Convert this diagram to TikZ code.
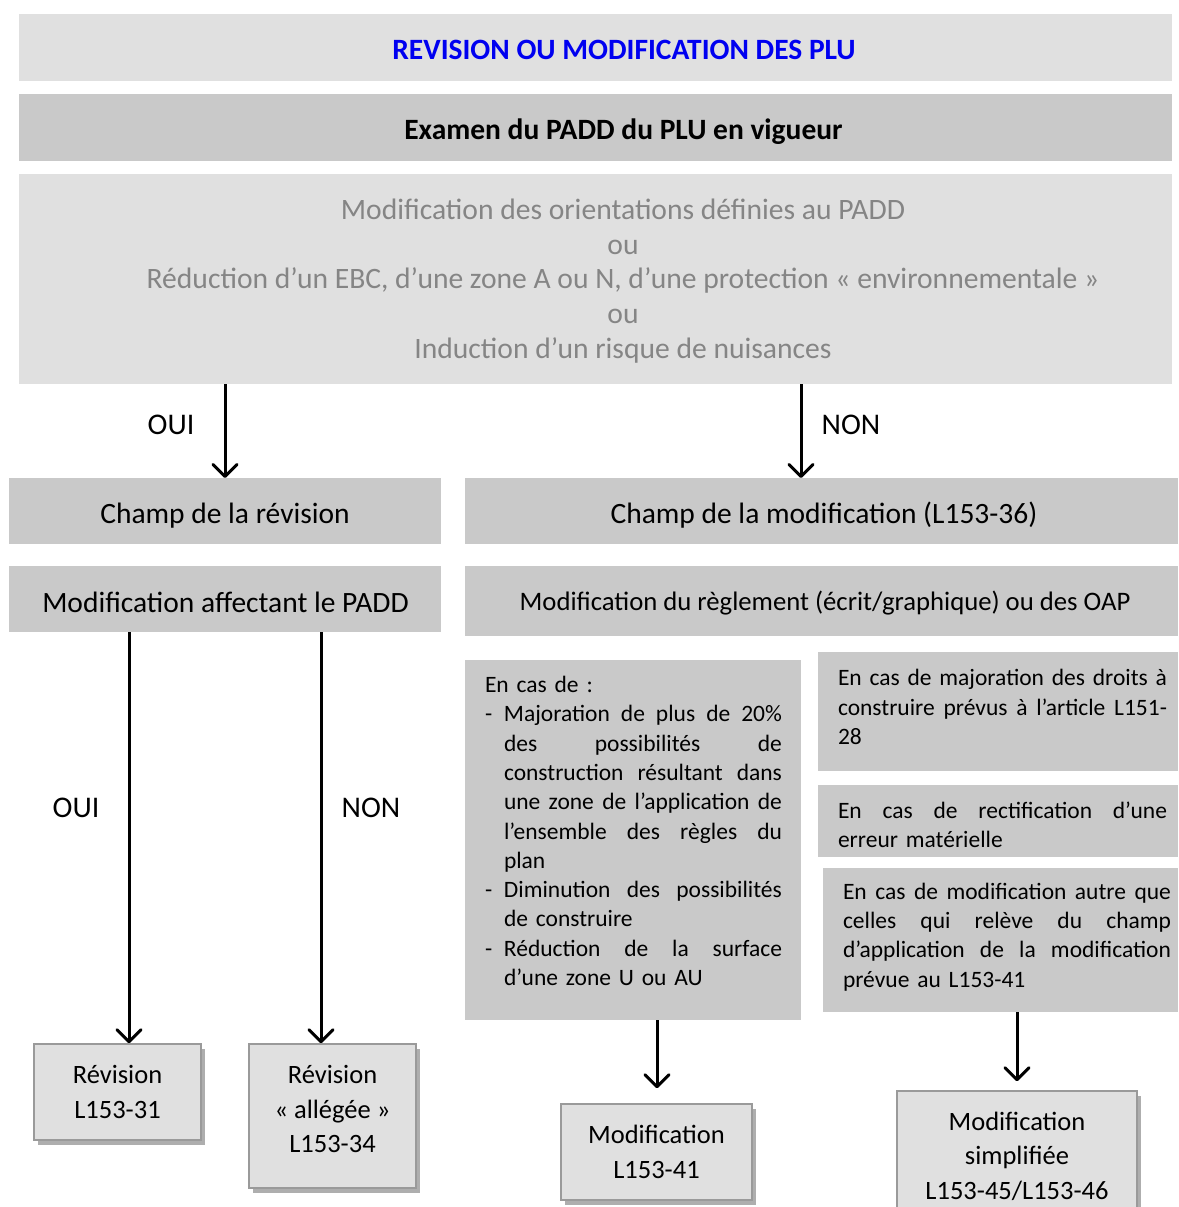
\documentclass[tikz,border=0pt]{standalone}
\usepackage{fontspec}
\setmainfont{Carlito}
\usetikzlibrary{arrows.meta,shadows}
\definecolor{lightbox}{HTML}{E0E0E0}
\definecolor{midbox}{HTML}{C9C9C9}
\definecolor{greytxt}{HTML}{858585}
\definecolor{titleblue}{HTML}{0000F0}
\definecolor{edgegrey}{HTML}{9A9A9A}
\newcommand\jst[2]{\leavevmode\hbox to #1{\spaceskip=\fontdimen2\font plus 1fil\relax\xspaceskip=\spaceskip #2}}
\newcommand\dsh{\leavevmode\hbox to 19pt{-\hss}}
\newcommand\ind{\hspace*{19pt}}
\tikzset{
  band/.style={draw=none, inner sep=0pt, outer sep=0pt},
  lightband/.style={band, fill=lightbox},
  midband/.style={band, fill=midbox},
  bigfont/.style={font=\fontsize{29.5}{34.5}\selectfont},
  bodyfont/.style={font=\fontsize{23.5}{29.3}\selectfont},
  txt/.style={inner sep=0pt, outer sep=0pt},
  basetxt/.style={txt, anchor=base},
  result/.style={draw=edgegrey, line width=1.5pt, fill=lightbox, inner sep=0pt,
    drop shadow={shadow xshift=4pt, shadow yshift=-5pt, opacity=0.45, fill=black!70}},
  resfont/.style={txt, align=center, font=\fontsize{26.5}{34.5}\selectfont},
  arr/.style={line width=3pt, -{Straight Barb[length=12pt,width=24pt,line width=3pt,round]}},
  lbl/.style={basetxt, font=\fontsize{30}{34}\selectfont},
}
\begin{document}
\begin{tikzpicture}[x=1pt,y=-1pt]
\useasboundingbox (0,0) rectangle (1178,1207);
\clip (0,0) rectangle (1178,1207);
% top bands
\node[lightband, minimum width=1153pt, minimum height=67pt] (title) at (595.5,47.5) {};
\node[basetxt, font=\fontsize{29.5}{34}\selectfont\bfseries, text=titleblue] (titletxt) at (624,59.5) {REVISION OU MODIFICATION DES PLU};
\node[midband, minimum width=1153pt, minimum height=67pt] (examen) at (595.5,127.5) {};
\node[basetxt, font=\fontsize{29.5}{34}\selectfont\bfseries] (examentxt) at (623.5,139.5) {Examen du PADD du PLU en vigueur};
\node[lightband, minimum width=1153pt, minimum height=210pt] (big) at (595.5,279) {};
\node[txt, align=center, text=greytxt, font=\fontsize{29.6}{34.8}\selectfont] (bigtxt) at (623,281) {Modification des orientations définies au PADD\\ou\\Réduction d’un EBC, d’une zone A ou N, d’une protection « environnementale »\\ou\\Induction d’un risque de nuisances};
% second level
\node[midband, minimum width=432pt, minimum height=66pt] (champR) at (225,511) {};
\node[basetxt, bigfont] (champRtxt) at (225,523.5) {Champ de la révision};
\node[midband, minimum width=713pt, minimum height=66pt] (champM) at (821.5,511) {};
\node[basetxt, bigfont] (champMtxt) at (824,523.5) {Champ de la modification (L153-36)};
\node[midband, minimum width=432pt, minimum height=66pt] (modPADD) at (225,599) {};
\node[basetxt, bigfont] (modPADDtxt) at (225.5,612.5) {Modification affectant le PADD};
\node[midband, minimum width=713pt, minimum height=70pt] (modReg) at (821.5,601) {};
\node[basetxt, font=\fontsize{26.7}{30}\selectfont] (modRegtxt) at (825,610.6) {Modification du règlement (écrit/graphique) ou des OAP};
% arrows top
\draw[arr] (big.south -| champR.north) -- (champR.north);
\draw[arr] (big.south -| 801,0) -- (champM.north -| 801,0);
\node[lbl] (oui1) at (171,434.5) {OUI};
\node[lbl] (non1) at (851,434.5) {NON};
% condition boxes
\node[midband, minimum width=336pt, minimum height=360pt] (encas) at (633,840) {};
\node[txt, bodyfont, text width=297pt, align=left] (encastxt) at (633.5,831) {%
En cas de :\\
\dsh\jst{278pt}{Majoration de plus de 20\%}\\
\ind\jst{278pt}{des possibilités de}\\
\ind\jst{278pt}{construction résultant dans}\\
\ind\jst{278pt}{une zone de l’application de}\\
\ind\jst{278pt}{l’ensemble des règles du}\\
\ind plan\\
\dsh\jst{278pt}{Diminution des possibilités}\\
\ind de construire\\
\dsh\jst{278pt}{Réduction de la surface}\\
\ind d’une zone U ou AU};
\node[midband, minimum width=360pt, minimum height=119pt] (maj) at (998,711.5) {};
\node[txt, bodyfont, text width=329pt, align=left] (majtxt) at (1002.5,707) {%
\jst{329pt}{En cas de majoration des droits à}\\
\jst{329pt}{construire prévus à l’article L151-}\\
28};
\node[midband, minimum width=360pt, minimum height=72pt] (rect) at (998,821) {};
\node[txt, bodyfont, text width=329pt, align=left] (recttxt) at (1002.5,825) {%
\jst{329pt}{En cas de rectification d’une}\\
erreur matérielle};
\node[midband, minimum width=355pt, minimum height=144pt] (autre) at (1000.5,940) {};
\node[txt, bodyfont, text width=328pt, align=left] (autretxt) at (1007,937) {%
\jst{328pt}{En cas de modification autre que}\\
\jst{328pt}{celles qui relève du champ}\\
\jst{328pt}{d’application de la modification}\\
prévue au L153-41};
% results
\node[result, minimum width=167pt, minimum height=96pt] (rev) at (117.5,1092) {};
\node[resfont] (revtxt) at (117.5,1092) {Révision\\L153-31};
\node[result, minimum width=167pt, minimum height=144pt] (revall) at (332.5,1116) {};
\node[resfont] (revalltxt) at (332.5,1109) {Révision\\« allégée »\\L153-34};
\node[result, minimum width=191pt, minimum height=96pt] (mod) at (656.5,1152) {};
\node[resfont] (modtxt) at (656.5,1152) {Modification\\L153-41};
\node[result, minimum width=240pt, minimum height=130pt] (modsimp) at (1017,1156) {};
\node[resfont] (modsimptxt) at (1017,1156) {Modification\\simplifiée\\L153-45/L153-46};
% arrows bottom
\draw[arr] (modPADD.south -| 129,0) -- (rev.north -| 129,0);
\draw[arr] (modPADD.south -| 321,0) -- (revall.north -| 321,0);
\node[lbl] (oui2) at (76,817.5) {OUI};
\node[lbl] (non2) at (371,817.5) {NON};
\draw[arr, shorten >=15pt] (encas.south -| 657,0) -- (mod.north -| 657,0);
\draw[arr, shorten >=9pt] (autre.south -| modsimp.north) -- (modsimp.north);
\end{tikzpicture}
\end{document}
